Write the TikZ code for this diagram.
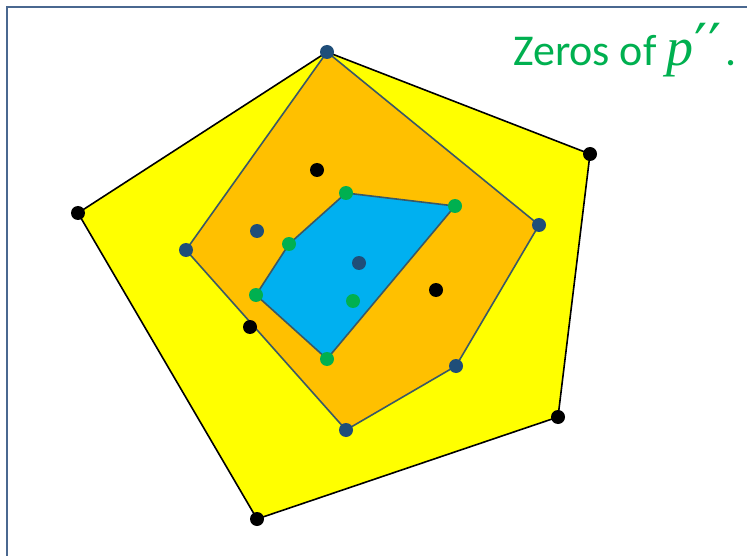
\documentclass[tikz,border=0pt]{standalone}
\usepackage{fontspec}
\setmainfont{Carlito}
\newfontfamily\serifit{Liberation Serif}
\newfontfamily\primefont{DejaVu Sans}
\begin{document}
\begin{tikzpicture}[x=1pt,y=-1pt,
  blk/.style={circle,fill=black,inner sep=0pt,minimum size=14pt},
  blu/.style={circle,fill=dotblue,inner sep=0pt,minimum size=14pt},
  grn/.style={circle,fill=dotgreen,inner sep=0pt,minimum size=14pt},
  outline/.style={line width=1.6pt,line join=round}]
\definecolor{dotblue}{HTML}{1F4E79}
\definecolor{dotgreen}{HTML}{00B050}
\definecolor{framec}{HTML}{4A6890}
\definecolor{edgec}{HTML}{3A5866}
\definecolor{orng}{HTML}{FFC000}
\definecolor{cyanf}{HTML}{00B0F0}
\definecolor{yel}{HTML}{FFFF00}
\useasboundingbox (0,0) rectangle (747,556);
\fill[white] (0,0) rectangle (747,556);
\draw[framec,line width=2.2pt] (7,560) -- (7,7) -- (750,7);
% coordinates
\coordinate (y1) at (327,52);
\coordinate (y2) at (590,154);
\coordinate (y3) at (558,417);
\coordinate (y4) at (257,519);
\coordinate (y5) at (78,213);
\coordinate (o2) at (539,225);
\coordinate (o3) at (456,366);
\coordinate (o4) at (346,430);
\coordinate (o5) at (186,250);
\coordinate (c1) at (346,193);
\coordinate (c2) at (455,206);
\coordinate (c3) at (327,359);
\coordinate (c4) at (256,295);
\coordinate (c5) at (289,244);
\filldraw[fill=yel,draw=black,outline] (y1) -- (y2) -- (y3) -- (y4) -- (y5) -- cycle;
\filldraw[fill=orng,draw=edgec,outline] (y1) -- (o2) -- (o3) -- (o4) -- (o5) -- cycle;
\filldraw[fill=cyanf,draw=edgec,outline] (c1) -- (c2) -- (c3) -- (c4) -- (c5) -- cycle;
% black dots
\node[blk] (b1) at (y2) {};
\node[blk] (b2) at (y3) {};
\node[blk] (b3) at (y4) {};
\node[blk] (b4) at (y5) {};
\node[blk] (b5) at (317,170) {};
\node[blk] (b6) at (436,290) {};
\node[blk] (b7) at (250,327) {};
% blue dots
\node[blu] (u1) at (y1) {};
\node[blu] (u2) at (o2) {};
\node[blu] (u3) at (o3) {};
\node[blu] (u4) at (o4) {};
\node[blu] (u5) at (o5) {};
\node[blu] (u6) at (257,231) {};
\node[blu] (u7) at (359,263) {};
% green dots
\node[grn] (g1) at (c1) {};
\node[grn] (g2) at (c2) {};
\node[grn] (g3) at (c3) {};
\node[grn] (g4) at (c4) {};
\node[grn] (g5) at (c5) {};
\node[grn] (g6) at (353,301) {};
\node[anchor=base west,text=dotgreen,font=\fontsize{44}{50}\selectfont,inner sep=0pt] (t) at (513,66) {Zeros of {\fontsize{54}{60}\selectfont\serifit\itshape p}{\fontsize{58}{60}\selectfont\primefont\hspace{1pt}′\hspace{1pt}′}\hspace{4pt}.};
\end{tikzpicture}
\end{document}
